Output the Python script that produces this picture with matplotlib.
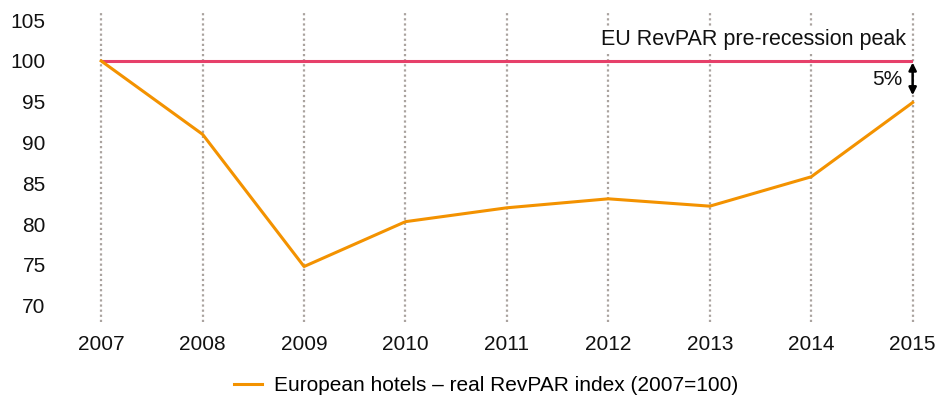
import numpy as np
import matplotlib
matplotlib.use("Agg")
import matplotlib.pyplot as plt

plt.rcParams['font.family'] = ['Liberation Sans', 'DejaVu Sans']

years = [2007, 2008, 2009, 2010, 2011, 2012, 2013, 2014, 2015]
revpar = [100, 91.0, 74.8, 80.3, 82.0, 83.1, 82.2, 85.8, 94.9]
peak = 100
yticks = [70, 75, 80, 85, 90, 95, 100, 105]

orange = '#f39200'
pink = '#e6406a'
grid_col = '#aaa39f'

fig = plt.figure(figsize=(9.37, 4.0), dpi=100)
ax = fig.add_axes([0.108, 0.195, 0.866, 0.775])

for y in years:
    ax.axvline(y, color=grid_col, lw=1.6, ls=(0, (1, 1.3)), zorder=1, clip_on=False)

ax.axhline(peak, color=pink, lw=2.2, zorder=2)
ax.plot(years, revpar, color=orange, lw=2.2, zorder=3, clip_on=False,
        label='European hotels – real RevPAR index (2007=100)')

ax.text(2015 - 0.07, 102.6, 'EU RevPAR pre-recession peak', ha='right', va='center',
        fontsize=15.5, color='#111111', zorder=4,
        bbox=dict(facecolor='white', edgecolor='none', pad=1))
ax.annotate('', xy=(2015, peak - 0.2), xytext=(2015, revpar[-1] + 0.9),
            arrowprops=dict(arrowstyle='<|-|>', color='black', lw=1.8,
                            mutation_scale=11, shrinkA=0, shrinkB=0), zorder=5)
ax.text(2015 - 0.1, (peak + revpar[-1]) / 2 + 0.3, '5%', ha='right', va='center',
        fontsize=15, color='#111111')

ax.set_xlim(2007, 2015)
ax.set_ylim(68, 106)
ax.set_yticks(yticks)
ax.set_xticks(years)
ax.tick_params(length=0, labelsize=15, colors='#111111')
ax.tick_params(axis='x', pad=9)
ax.tick_params(axis='y', pad=40)
for s in ax.spines.values():
    s.set_visible(False)

fig.legend(loc='lower center', bbox_to_anchor=(0.519, -0.035), frameon=False,
           fontsize=15, handlelength=1.35, handletextpad=0.6)

fig.savefig('out.png', dpi=100)
